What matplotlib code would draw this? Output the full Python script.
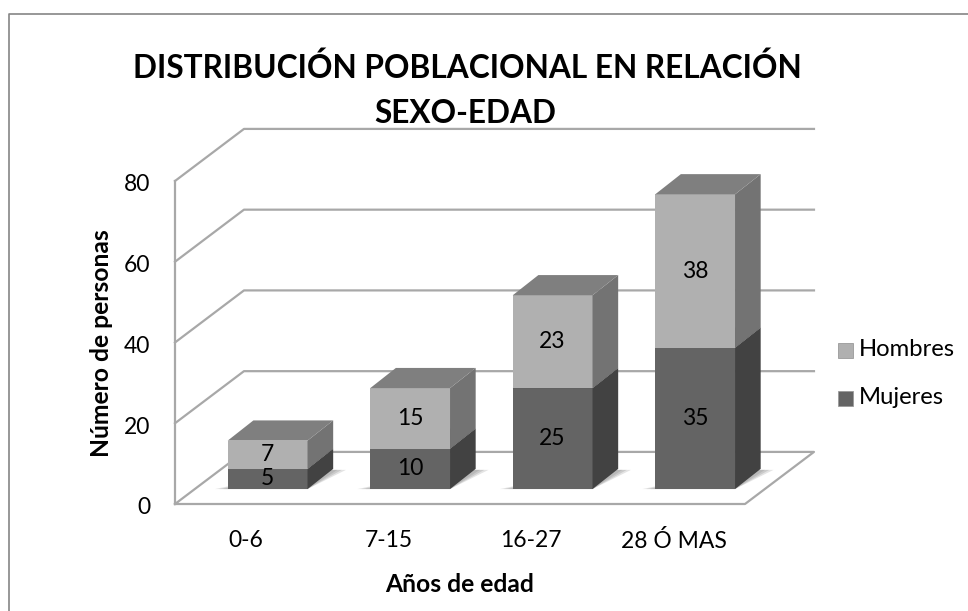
import matplotlib
matplotlib.use("Agg")
import matplotlib.pyplot as plt
from matplotlib.lines import Line2D
from matplotlib.patches import Rectangle
from matplotlib.transforms import ScaledTranslation

plt.rcParams["font.family"] = ["Lato", "DejaVu Sans"]

CATEGORIES = ["0-6", "7-15", "16-27", "28 Ó MAS"]
MUJERES = [5, 10, 25, 35]
HOMBRES = [7, 15, 23, 38]
Y_TICKS = [0, 20, 40, 60, 80]

TITLE_1 = "DISTRIBUCIÓN POBLACIONAL EN RELACIÓN"
TITLE_2 = "SEXO-EDAD"
X_LABEL = "Años de edad"
Y_LABEL = "Número de personas"

W, H = 968, 611
# oblique depth of the floor, in data units
WALL_DX, WALL_DY = 0.484, 12.9
# where the bars stand inside that depth, and how deep they are
BAR_DX0, BAR_DY0 = 0.15, 3.7
BAR_DX, BAR_DY = 0.18, 5.0
BAR_W = 0.56

GRID = "#a8a8a8"
FRAME = "#858585"
DARK = {"front": "#646464", "side": "#424242", "top": "#4e4e4e"}
LIGHT = {"front": "#b0b0b0", "side": "#737373", "top": "#7f7f7f"}
TEXT_SIZE = 16.5


def draw_box(ax, x0, y0, y1, colors, zorder):
    x1 = x0 + BAR_W
    ax.fill([x0, x1, x1, x0], [y0, y0, y1, y1], color=colors["front"], lw=0, zorder=zorder, clip_on=False)
    ax.fill([x1, x1 + BAR_DX, x1 + BAR_DX, x1], [y0, y0 + BAR_DY, y1 + BAR_DY, y1],
            color=colors["side"], lw=0, zorder=zorder, clip_on=False)
    ax.fill([x0, x1, x1 + BAR_DX, x0 + BAR_DX], [y1, y1, y1 + BAR_DY, y1 + BAR_DY],
            color=colors["top"], lw=0, zorder=zorder, clip_on=False)


fig = plt.figure(figsize=(W / 100, H / 100), dpi=100)
# the outer frame only shows on the top and left
fig.add_artist(Line2D([8.5 / W, 8.5 / W, 1], [0, 1 - 13.5 / H, 1 - 13.5 / H], transform=fig.transFigure,
                      color=FRAME, lw=1.2))

ax = fig.add_axes([175 / W, 1 - 504 / H, 570 / W, 323 / H])
ax.set_xlim(0, len(CATEGORIES))
ax.set_ylim(0, 80)
for s in ax.spines.values():
    s.set_visible(False)
ax.patch.set_visible(False)

# walls
n = len(CATEGORIES)
ax.plot([0, n, n + WALL_DX, WALL_DX, 0], [0, 0, WALL_DY, WALL_DY, 0], color=GRID, lw=1.6, clip_on=False, zorder=1)
ax.plot([0, 0], [0, 80], color=GRID, lw=1.6, clip_on=False, zorder=1)
for v in Y_TICKS[1:]:
    ax.plot([0, WALL_DX, n + WALL_DX], [v, v + WALL_DY, v + WALL_DY], color=GRID, lw=1.6, clip_on=False, zorder=1)

for i, (m, h) in enumerate(zip(MUJERES, HOMBRES)):
    x0 = i + 0.5 - BAR_W / 2 + BAR_DX0
    x1 = x0 + BAR_W
    # soft floor shadow
    for grow, alpha in [(0.09, 0.3), (0.06, 0.4), (0.03, 0.5)]:
        ax.fill([x0 - grow, x1, x1 + BAR_DX + grow, x1],
                [BAR_DY0, BAR_DY0, BAR_DY0 + BAR_DY * 0.95, BAR_DY0 + BAR_DY * 0.95],
                color="#a6a6a6", alpha=alpha, lw=0, zorder=2, clip_on=False)
    draw_box(ax, x0, BAR_DY0, BAR_DY0 + m, DARK, 3)
    draw_box(ax, x0, BAR_DY0 + m, BAR_DY0 + m + h, LIGHT, 4)
    xc = x0 + BAR_W / 2
    ax.text(xc, BAR_DY0 + m / 2, str(m), ha="center", va="center", fontsize=TEXT_SIZE, color="black", zorder=6)
    ax.text(xc, BAR_DY0 + m + h / 2, str(h), ha="center", va="center", fontsize=TEXT_SIZE, color="black", zorder=6)

ax.set_xticks([i + 0.5 for i in range(n)], CATEGORIES)
ax.set_yticks(Y_TICKS)
ax.tick_params(axis="x", length=0, pad=19, labelsize=TEXT_SIZE)
ax.tick_params(axis="y", length=0, pad=18, labelsize=TEXT_SIZE)
down = ScaledTranslation(0, -2 / 100, fig.dpi_scale_trans)
for lbl in ax.get_yticklabels():
    lbl.set_transform(lbl.get_transform() + down)

fig.text(467.5 / W, 1 - 78 / H, TITLE_1, ha="center", va="baseline", fontsize=22.8, fontweight="bold")
fig.text(465 / W, 1 - 123 / H, TITLE_2, ha="center", va="baseline", fontsize=22.8, fontweight="bold")
fig.text(459.5 / W, 1 - 584 / H, X_LABEL, ha="center", va="center", fontsize=17.7, fontweight="bold")
fig.text(101.5 / W, 1 - 343 / H, Y_LABEL, ha="center", va="center", rotation=90, fontsize=17.7, fontweight="bold")

# legend
for name, colors, y_box, y_text in [("Hombres", LIGHT, 350, 349), ("Mujeres", DARK, 398.5, 397)]:
    fig.add_artist(Rectangle((838 / W, 1 - (y_box + 7.5) / H), 15 / W, 15 / H, transform=fig.transFigure,
                             fc=colors["front"], ec="#9a9a9a", lw=0.6))
    fig.text(859 / W, 1 - y_text / H, name, ha="left", va="center", fontsize=17.2)

fig.savefig("out.png", dpi=100)
